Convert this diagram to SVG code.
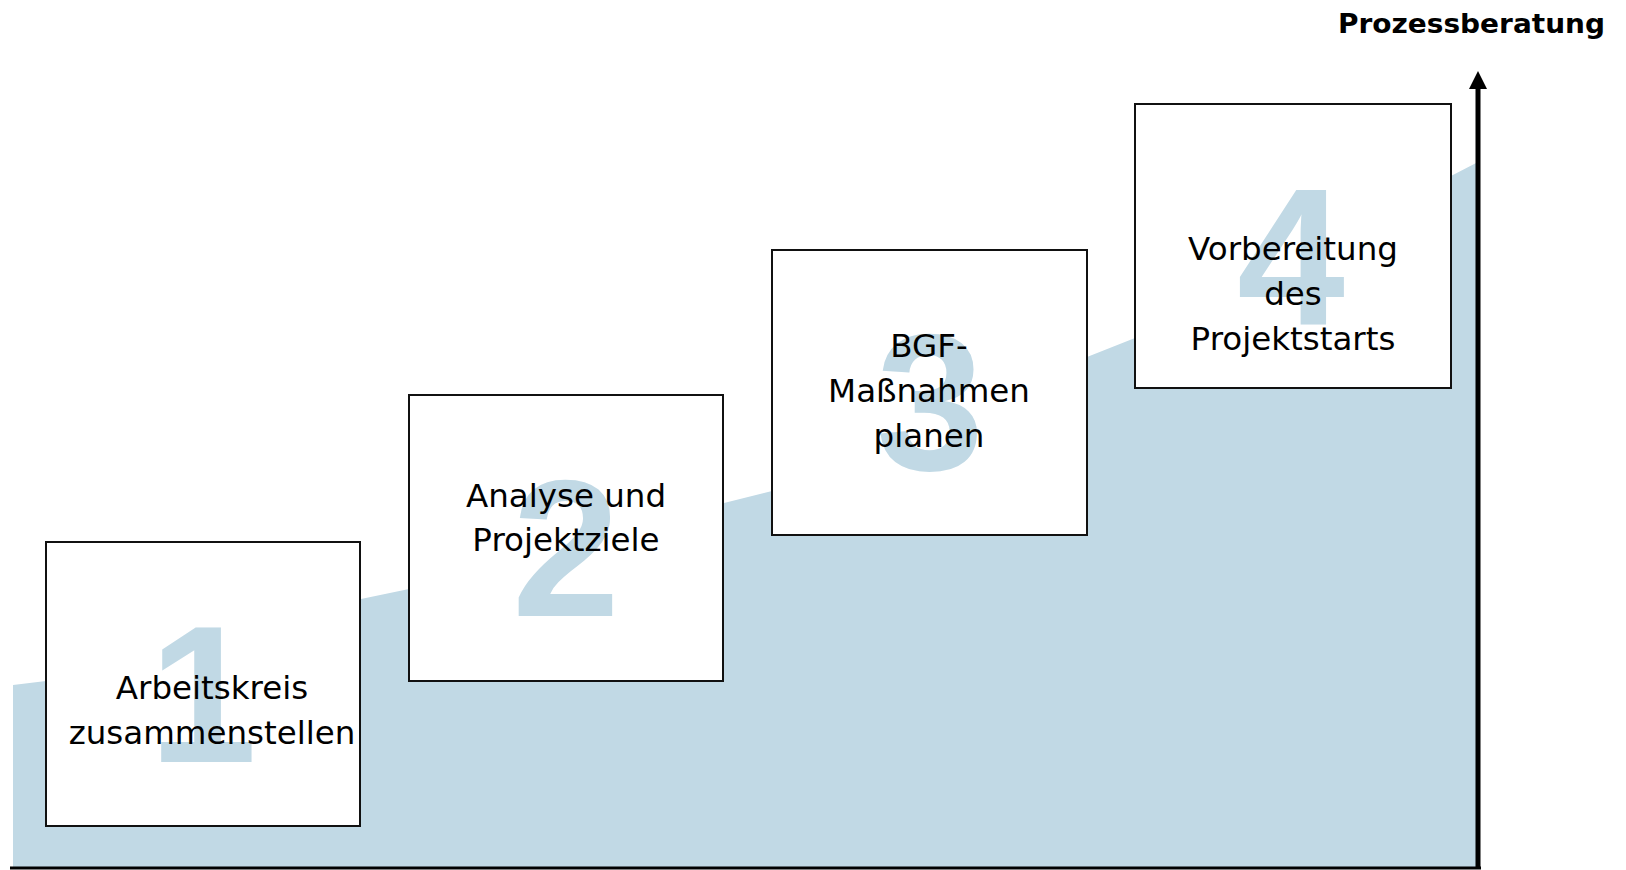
<svg xmlns="http://www.w3.org/2000/svg" width="1626" height="870" viewBox="0 0 1626 870">
<style>
.box{fill:#fff;stroke:#111;stroke-width:2}
.num{font-family:"Liberation Sans",Arial,sans-serif;font-weight:bold;font-size:194px;fill:#c1d9e5;text-anchor:middle}
.lbl{font-family:"DejaVu Sans","Liberation Sans",sans-serif;font-size:32.5px;fill:#000;text-anchor:middle}
.title{font-family:"DejaVu Sans","Liberation Sans",sans-serif;font-weight:bold;font-size:27px;fill:#000;text-anchor:end}
</style>
<rect width="1626" height="870" fill="#fff"/>
<path id="area" d="M13,685 L46,681 L361,599 L409,589 L724,503 L772,491 L1087,357 L1135,338 L1451,176 L1478,162 L1478,868 L13,868 Z" fill="#c1d9e5"/>
<g id="connectors">
<line x1="10" y1="868" x2="1481" y2="868" stroke="#000" stroke-width="3"/>
<line x1="1478" y1="869" x2="1478" y2="86" stroke="#000" stroke-width="5"/>
<polygon points="1478,71 1469,89 1487,89" fill="#000"/>
</g>
<g id="step1">
<rect class="box" x="46" y="542" width="314" height="284"/>
<text class="num" x="203" y="762">1</text>
<text class="lbl" x="212" y="699">Arbeitskreis</text>
<text class="lbl" x="212" y="744">zusammenstellen</text>
</g>
<g id="step2">
<rect class="box" x="409" y="395" width="314" height="286"/>
<text class="num" x="566" y="616">2</text>
<text class="lbl" x="566" y="507">Analyse und</text>
<text class="lbl" x="566" y="551">Projektziele</text>
</g>
<g id="step3">
<rect class="box" x="772" y="250" width="315" height="285"/>
<text class="num" x="930" y="470">3</text>
<text class="lbl" x="929" y="357">BGF-</text>
<text class="lbl" x="929" y="402">Maßnahmen</text>
<text class="lbl" x="929" y="447">planen</text>
</g>
<g id="step4">
<rect class="box" x="1135" y="104" width="316" height="284"/>
<text class="num" x="1291" y="324">4</text>
<text class="lbl" x="1293" y="260">Vorbereitung</text>
<text class="lbl" x="1293" y="305">des</text>
<text class="lbl" x="1293" y="350">Projektstarts</text>
</g>
<g id="title">
<text class="title" x="1605" y="33" textLength="267" lengthAdjust="spacingAndGlyphs">Prozessberatung</text>
</g>
</svg>
